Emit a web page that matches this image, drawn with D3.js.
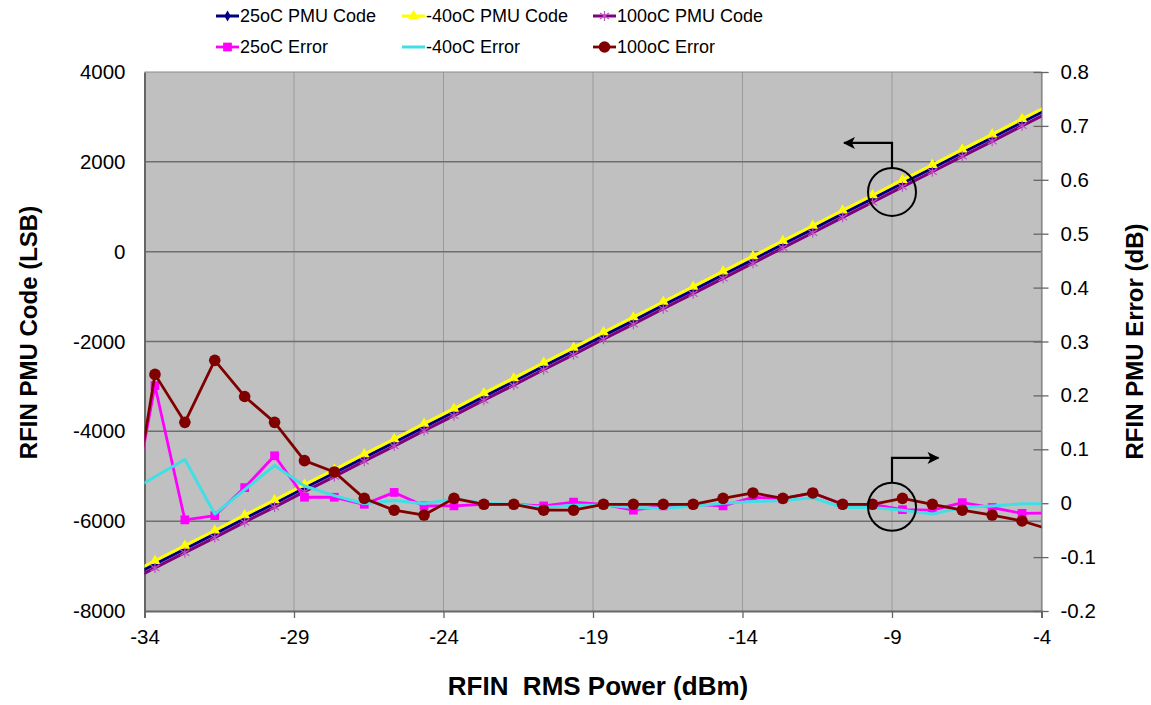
<!DOCTYPE html>
<html>
<head>
<meta charset="utf-8">
<script src="https://cdn.jsdelivr.net/npm/d3@7"></script>
<style>
  html, body { margin: 0; padding: 0; background: #ffffff; }
  svg { display: block; }
  text { font-family: "Liberation Sans", Arial, sans-serif; fill: #000; }
</style>
</head>
<body>
<svg id="chart" width="1151" height="705"></svg>
<script>
// ---------------- data ----------------
const power = [-34.65, -33.65, -32.65, -31.65, -30.65, -29.65, -28.65, -27.65, -26.65, -25.65,
               -24.65, -23.65, -22.65, -21.65, -20.65, -19.65, -18.65, -17.65, -16.65, -15.65,
               -14.65, -13.65, -12.65, -11.65, -10.65, -9.65, -8.65, -7.65, -6.65, -5.65,
               -4.65, -3.65];

const code25 = [-7300, -6958, -6620, -6284, -5941, -5605, -5262, -4926, -4584, -4247,
                -3905, -3570, -3226, -2891, -2548, -2212, -1869, -1534, -1190, -855,
                -512, -176, 167, 502, 846, 1181, 1524, 1860, 2203, 2538, 2882, 3217];
const codeM40 = [-7225, -6882, -6546, -6208, -5866, -5530, -5187, -4851, -4508, -4172,
                 -3830, -3494, -3151, -2815, -2473, -2137, -1794, -1458, -1115, -780,
                 -437, -101, 242, 577, 920, 1256, 1599, 1934, 2277, 2613, 2956, 3291];
const code100 = [-7380, -7040, -6702, -6365, -6022, -5686, -5343, -5007, -4665, -4328,
                 -3986, -3651, -3307, -2972, -2629, -2293, -1950, -1615, -1271, -936,
                 -593, -257, 86, 421, 765, 1100, 1443, 1779, 2122, 2457, 2801, 3136];

const err25 = [-0.08, 0.218, -0.031, -0.023, 0.029, 0.088, 0.011, 0.011, -0.002, 0.020,
               -0.005, -0.005, -0.002, -0.002, -0.005, 0.002, -0.002, -0.013, -0.005, -0.002,
               -0.005, 0.011, 0.008, 0.019, -0.002, -0.002, -0.012, -0.013, 0.001, -0.008,
               -0.019, -0.018];
const errM40 = [0.017, 0.049, 0.081, -0.020, 0.025, 0.070, 0.032, 0.014, -0.001, 0.005,
                -0.001, 0.008, 0.000, -0.002, -0.008, -0.004, -0.004, -0.008, -0.010, -0.005,
                0.000, 0.003, 0.005, 0.010, -0.008, -0.008, -0.013, -0.020, -0.008, -0.005,
                -0.001, -0.001];
const err100 = [-0.10, 0.239, 0.150, 0.265, 0.198, 0.150, 0.079, 0.058, 0.009, -0.013,
                -0.022, 0.009, -0.002, -0.002, -0.013, -0.013, -0.002, -0.002, -0.002, -0.002,
                0.009, 0.019, 0.009, 0.019, -0.002, -0.002, 0.009, -0.002, -0.013, -0.022,
                -0.033, -0.050];

const xTicks = [-34, -29, -24, -19, -14, -9, -4];
const yLeftTicks = [-8000, -6000, -4000, -2000, 0, 2000, 4000];
const yRightTicks = [-0.2, -0.1, 0, 0.1, 0.2, 0.3, 0.4, 0.5, 0.6, 0.7, 0.8];
const yRightLabels = ["-0.2", "-0.1", "0", "0.1", "0.2", "0.3", "0.4", "0.5", "0.6", "0.7", "0.8"];

const seriesNames = ["25oC PMU Code", "-40oC PMU Code", "100oC PMU Code",
                     "25oC Error", "-40oC Error", "100oC Error"];

// annotation anchors (data coords)
const noteCode = { x: -9, y: 1330, upTo: 2420, toX: -10.6 };
const noteErr = { x: -9, y: -0.0065, upTo: 0.084, toX: -7.45 };

// ---------------- layout ----------------
const svg = d3.select("#chart");
const L = 144.5, R = 1041.5, T = 72, B = 611;

const x = d3.scaleLinear().domain([-34, -4]).range([L, R]);
const yL = d3.scaleLinear().domain([-8000, 4000]).range([B, T]);
const yR = d3.scaleLinear().domain([-0.2, 0.8]).range([B, T]);

const defs = svg.append("defs");
defs.append("clipPath").attr("id", "plotclip")
  .append("rect").attr("x", L).attr("y", T).attr("width", R - L).attr("height", B - T);

// plot background
svg.append("rect").attr("x", L).attr("y", T).attr("width", R - L).attr("height", B - T)
  .attr("fill", "#c0c0c0");

// vertical grid
svg.append("g").selectAll("line").data(xTicks.slice(1, -1)).join("line")
  .attr("x1", d => x(d)).attr("x2", d => x(d)).attr("y1", T).attr("y2", B)
  .attr("stroke", "#9a9a9a").attr("stroke-width", 1);
// horizontal grid
svg.append("g").selectAll("line").data(yLeftTicks.slice(1, -1)).join("line")
  .attr("x1", L).attr("x2", R).attr("y1", d => yL(d)).attr("y2", d => yL(d))
  .attr("stroke", "#6e6e6e").attr("stroke-width", 1.5);

// border
svg.append("line").attr("x1", L).attr("x2", R).attr("y1", T).attr("y2", T).attr("stroke", "#8a8a8a").attr("stroke-width", 1.2);
svg.append("line").attr("x1", R).attr("x2", R).attr("y1", T).attr("y2", B).attr("stroke", "#8a8a8a").attr("stroke-width", 1.2);

// axes
const hy = d => String(d);
const axX = svg.append("g").attr("transform", `translate(0,${B})`)
  .call(d3.axisBottom(x).tickValues(xTicks).tickSize(7).tickPadding(11).tickFormat(hy));
const axL = svg.append("g").attr("transform", `translate(${L},0)`)
  .call(d3.axisLeft(yL).tickValues(yLeftTicks).tickSize(0).tickPadding(19).tickFormat(hy));
const axR = svg.append("g").attr("transform", `translate(${R},0)`)
  .call(d3.axisRight(yR).tickValues(yRightTicks).tickSize(7).tickPadding(12)
        .tickFormat((d, i) => yRightLabels[i]));
axR.selectAll(".tick line").attr("x1", -8);
[axX, axL, axR].forEach(a => {
  a.selectAll("text").attr("font-size", 20.5).attr("font-family", "Liberation Sans, Arial, sans-serif").attr("fill", "#000");
  a.selectAll(".tick line").attr("stroke", "#666").attr("stroke-width", 1.3);
});
axX.select(".domain").attr("stroke", "#666").attr("stroke-width", 2);
axL.select(".domain").attr("stroke", "#666").attr("stroke-width", 2);
axR.select(".domain").attr("stroke", "#8a8a8a").attr("stroke-width", 1.2);

// axis titles
svg.append("text").attr("x", (L + R) / 2 + 5).attr("y", 695).attr("text-anchor", "middle")
  .attr("font-size", 26).attr("font-weight", "bold").text("RFIN\u00A0\u00A0RMS Power (dBm)");
svg.append("text").attr("transform", `translate(37,${(T + B) / 2 - 9}) rotate(-90)`)
  .attr("text-anchor", "middle").attr("font-size", 24).attr("font-weight", "bold")
  .text("RFIN PMU Code (LSB)");
svg.append("text").attr("transform", `translate(1143,${(T + B) / 2}) rotate(-90)`)
  .attr("text-anchor", "middle").attr("font-size", 24).attr("font-weight", "bold")
  .text("RFIN PMU Error (dB)");

// ---------------- series ----------------
const plot = svg.append("g").attr("clip-path", "url(#plotclip)");

const star = "M0,-5L0,5M-4.5,-3L4.5,3M-4.5,3L4.5,-3";
const series = [
  { name: seriesNames[0], vals: code25, y: yL, color: "#000080", w: 3, marker: "diamond", mcolor: "#000080" },
  { name: seriesNames[1], vals: codeM40, y: yL, color: "#ffff00", w: 3, marker: "triangle", mcolor: "#ffff00" },
  { name: seriesNames[2], vals: code100, y: yL, color: "#800080", w: 3, marker: "star", mcolor: "#c050c0" },
  { name: seriesNames[3], vals: err25, y: yR, color: "#ff00ff", w: 2.8, marker: "square", mcolor: "#ff00ff" },
  { name: seriesNames[4], vals: errM40, y: yR, color: "#40dfe3", w: 3, marker: "none", mcolor: "#40dfe3" },
  { name: seriesNames[5], vals: err100, y: yR, color: "#800000", w: 2.8, marker: "circle", mcolor: "#800000" }
];

function drawMarker(g, type, color, cx, cy) {
  if (type === "diamond") {
    g.append("path").attr("d", d3.symbol(d3.symbolDiamond, 34)()).attr("transform", `translate(${cx},${cy})`).attr("fill", color);
  } else if (type === "triangle") {
    g.append("path").attr("d", d3.symbol(d3.symbolTriangle, 50)()).attr("transform", `translate(${cx},${cy})`).attr("fill", color);
  } else if (type === "star") {
    g.append("path").attr("d", star).attr("transform", `translate(${cx},${cy})`).attr("stroke", color).attr("stroke-width", 1.2).attr("fill", "none");
  } else if (type === "square") {
    g.append("path").attr("d", d3.symbol(d3.symbolSquare, 76)()).attr("transform", `translate(${cx},${cy})`).attr("fill", color);
  } else if (type === "circle") {
    g.append("circle").attr("cx", cx).attr("cy", cy).attr("r", 5.8).attr("fill", color);
  }
}

series.forEach(s => {
  const pts = power.map((p, i) => [x(p), s.y(s.vals[i])]);
  plot.append("path").attr("d", d3.line()(pts)).attr("fill", "none")
    .attr("stroke", s.color).attr("stroke-width", s.w).attr("stroke-linejoin", "round");
  const mg = plot.append("g");
  if (s.marker !== "none") pts.forEach(p => drawMarker(mg, s.marker, s.mcolor, p[0], p[1]));
});

// ---------------- annotations ----------------
defs.append("marker").attr("id", "ah").attr("viewBox", "0 0 10 10")
  .attr("refX", 9).attr("refY", 5).attr("markerWidth", 14).attr("markerHeight", 12)
  .attr("markerUnits", "userSpaceOnUse").attr("orient", "auto")
  .append("path").attr("d", "M0,0L10,5L0,10L2.5,5Z").attr("fill", "#000");

function note(n, yS) {
  const cx = x(n.x), cy = yS(n.y), r = 24;
  svg.append("circle").attr("cx", cx).attr("cy", cy).attr("r", r)
    .attr("fill", "none").attr("stroke", "#000").attr("stroke-width", 2);
  svg.append("path").attr("d", `M${cx},${cy - r}L${cx},${yS(n.upTo)}L${x(n.toX)},${yS(n.upTo)}`)
    .attr("fill", "none").attr("stroke", "#000").attr("stroke-width", 2.2).attr("marker-end", "url(#ah)");
}
note(noteCode, yL);
note(noteErr, yR);

// ---------------- legend ----------------
const legX = [216, 402, 593];
const legY = [16, 47];
series.forEach((s, i) => {
  const col = i % 3, row = Math.floor(i / 3);
  const lx = legX[col], ly = legY[row];
  const g = svg.append("g");
  g.append("line").attr("x1", lx).attr("x2", lx + 23).attr("y1", ly).attr("y2", ly)
    .attr("stroke", s.color).attr("stroke-width", s.w);
  if (s.marker !== "none") drawMarker(g, s.marker, s.mcolor, lx + 11.5, ly);
  g.append("text").attr("x", lx + 24).attr("y", ly).attr("dy", "0.35em")
    .attr("font-size", 18).text(s.name);
});
</script>
</body>
</html>
